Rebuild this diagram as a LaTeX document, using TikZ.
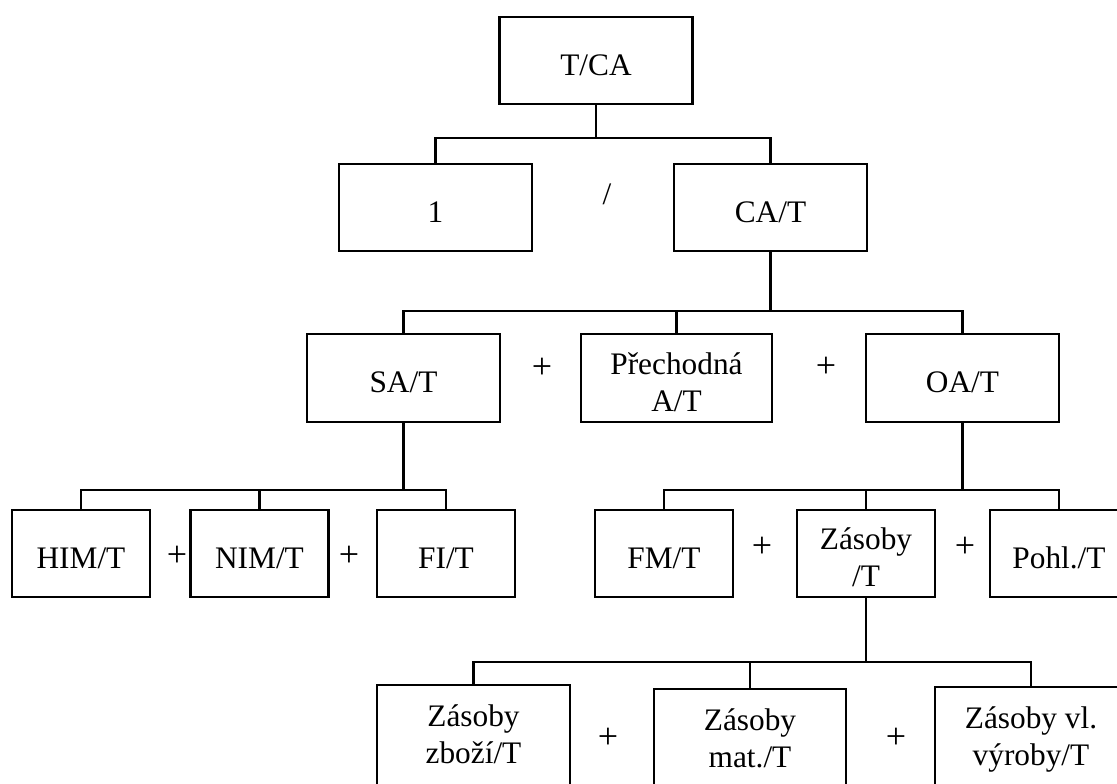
\documentclass[tikz,border=0pt]{standalone}
\usepackage{fontspec}
\setmainfont{Liberation Serif}
% first-line strut (fixes where the text sits in each box) and an extra depth for the tall bottom boxes
\newcommand\topstr{\rule{0pt}{22.5pt}}
\newcommand\botstr{\rule[-8.25pt]{0pt}{0pt}}
\begin{document}
\begin{tikzpicture}[x=0.75pt,y=-0.75pt,
  box/.style={draw,line width=1.6pt,rectangle,inner sep=0pt,align=center,
    font=\fontsize{23.5}{27.75}\selectfont},
  widebox/.style={box,minimum width=144.75pt,minimum height=65.6pt},
  narrowbox/.style={box,minimum width=103.5pt,minimum height=65.25pt},
  tallbox/.style={box,minimum width=144.75pt,minimum height=75pt},
  op/.style={inner sep=0pt,font=\fontsize{27}{30}\selectfont},
  conn/.style={line width=1.6pt}]
\useasboundingbox (0,0) rectangle (1117,783);
\clip (0,0) rectangle (1117,783);

% level 1 and 2
\node[widebox] (tca) at (596,60.5)    {\topstr T/CA};
\node[widebox] (one) at (435.5,207.5) {\topstr 1};
\node[widebox] (cat) at (770.5,207.5) {\topstr CA/T};
\node[op,font=\fontsize{23.5}{27.75}\selectfont] (div) at (607,194.5) {/};

% level 3
\node[widebox] (sat) at (403.5,378) {\topstr SA/T};
\node[widebox,minimum width=143.25pt] (pre) at (676.5,378) {\topstr Přechodná\\A/T};
\node[widebox] (oat) at (962.5,378) {\topstr OA/T};
\node[op] (p1) at (542,368) {+};
\node[op] (p2) at (826,367) {+};

% level 4
\node[narrowbox] (him) at (81,553.5)    {\topstr HIM/T};
\node[narrowbox] (nim) at (259.5,553.5) {\topstr NIM/T};
\node[narrowbox] (fi)  at (446,553.5)   {\topstr FI/T};
\node[op] (p3) at (177,556) {+};
\node[op] (p4) at (349,556) {+};

\node[narrowbox] (fm)  at (664,553.5)  {\topstr FM/T};
\node[narrowbox] (zas) at (866,553.5)  {\topstr Zásoby\\/T};
\node[narrowbox] (poh) at (1059,553.5) {\topstr Pohl./T};
\node[op] (p5) at (762,547) {+};
\node[op] (p6) at (965,547) {+};

% level 5
\node[tallbox] (zz) at (473.5,735) {\topstr Zásoby\\zboží/T\botstr};
\node[tallbox,minimum width=144pt] (zm) at (750,739) {\topstr Zásoby\\mat./T\botstr};
\node[tallbox,minimum width=144pt] (zv) at (1031,737) {\topstr Zásoby vl.\\výroby/T\botstr};
\node[op] (p7) at (608,738) {+};
\node[op] (p8) at (896,738) {+};

% bus levels
\coordinate (b1) at (0,138);
\coordinate (b2) at (0,311);
\coordinate (b3) at (0,490);
\coordinate (b5) at (0,662);

% connectors
\draw[conn] (tca.south) -- (tca.south |- b1);
\draw[conn] (one.north) |- (cat.north |- b1) -- (cat.north);

\draw[conn] (cat.south) -- (cat.south |- b2);
\draw[conn] (sat.north) |- (oat.north |- b2) -- (oat.north);
\draw[conn] (pre.north) -- (pre.north |- b2);

\draw[conn] (sat.south) -- (sat.south |- b3);
\draw[conn] (him.north) |- (fi.north |- b3) -- (fi.north);
\draw[conn] (nim.north) -- (nim.north |- b3);

\draw[conn] (oat.south) -- (oat.south |- b3);
\draw[conn] (fm.north) |- (poh.north |- b3) -- (poh.north);
\draw[conn] (zas.north) -- (zas.north |- b3);

\draw[conn] (zas.south) -- (zas.south |- b5);
\draw[conn] (zz.north) |- (zv.north |- b5) -- (zv.north);
\draw[conn] (zm.north) -- (zm.north |- b5);
\end{tikzpicture}
\end{document}
